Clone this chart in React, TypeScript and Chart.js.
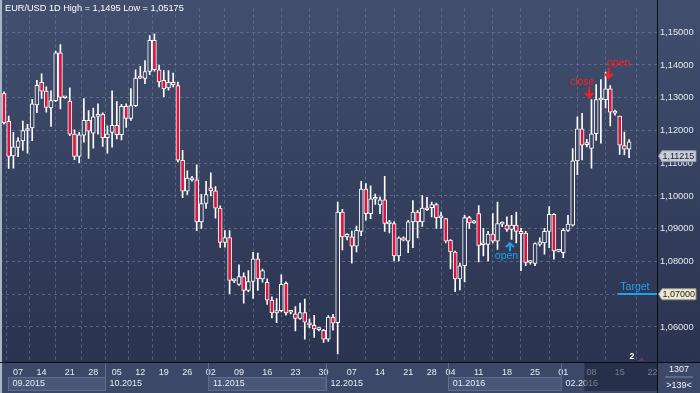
import { useEffect, useRef } from "react";
import { Chart, registerables } from "chart.js";

Chart.register(...registerables);

const FONT = "'Liberation Sans', Arial, sans-serif";

const TITLE = "EUR/USD 1D High = 1,1495 Low = 1,05175";

const opens = [
  1.1313, 1.1228, 1.1122, 1.1148, 1.1168, 1.12, 1.1208, 1.1278, 1.1347, 1.132,
  1.1269, 1.1291, 1.1437, 1.13, 1.129, 1.1189, 1.1121, 1.1186, 1.1231, 1.1192,
  1.1243, 1.1249, 1.1178, 1.1194, 1.1216, 1.1187, 1.1274, 1.1237, 1.1276, 1.1365,
  1.1359, 1.138, 1.1475, 1.1385, 1.1353, 1.133, 1.1347, 1.1337, 1.1109, 1.1015,
  1.1055, 1.1049, 1.0921, 1.0977, 1.1025, 1.1016, 1.0963, 1.0858, 1.0873, 1.0741,
  1.073, 1.0754, 1.0712, 1.0739, 1.0808, 1.0747, 1.0736, 1.0682, 1.0643, 1.065,
  1.0733, 1.0645, 1.064, 1.0626, 1.0644, 1.0613, 1.0605, 1.0592, 1.059, 1.0563,
  1.063, 1.0613, 1.0951, 1.0875, 1.0875, 1.0847, 1.0892, 1.1021, 1.0946, 1.099,
  1.0973, 1.0988, 1.0915, 1.0916, 1.0817, 1.0872, 1.0862, 1.0921, 1.0951, 1.0921,
  1.0964, 1.0964, 1.0974, 1.0933, 1.0931, 1.0865, 1.0829, 1.0747, 1.0787, 1.0934,
  1.0918, 1.0946, 1.0851, 1.0852, 1.0884, 1.0862, 1.0914, 1.0911, 1.0898, 1.0911,
  1.0892, 1.0887, 1.0797, 1.0794, 1.0852, 1.0857, 1.0892, 1.0944, 1.0831, 1.0827,
  1.0895, 1.0911, 1.1107, 1.1205, 1.1157, 1.1145, 1.119, 1.1293, 1.1294, 1.1327,
  1.1253, 1.1244, 1.1154, 1.1143,
];
const highs = [
  1.1318, 1.1244, 1.1194, 1.1178, 1.1229, 1.1219, 1.1295, 1.1353, 1.1373, 1.1333,
  1.1321, 1.1442, 1.1462, 1.1303, 1.133, 1.1202, 1.1194, 1.1297, 1.1261, 1.1268,
  1.1281, 1.1254, 1.1214, 1.1321, 1.1288, 1.128, 1.1281, 1.1328, 1.1385, 1.1396,
  1.1413, 1.149, 1.1495, 1.14, 1.1383, 1.1383, 1.1375, 1.1348, 1.1139, 1.1077,
  1.106, 1.1095, 1.1005, 1.1045, 1.1071, 1.1029, 1.097, 1.0894, 1.0894, 1.0747,
  1.079, 1.0765, 1.0772, 1.0828, 1.0826, 1.0777, 1.0747, 1.0692, 1.0687, 1.0759,
  1.0738, 1.065, 1.0662, 1.0673, 1.0685, 1.0625, 1.0636, 1.0598, 1.0593, 1.0635,
  1.0639, 1.0981, 1.0959, 1.0885, 1.0893, 1.0908, 1.1045, 1.1038, 1.1031, 1.1006,
  1.0997, 1.106, 1.0926, 1.0921, 1.0875, 1.0875, 1.0926, 1.0986, 1.0956, 1.1001,
  1.0996, 1.0981, 1.0978, 1.0951, 1.0931, 1.0867, 1.0832, 1.0795, 1.0941, 1.0938,
  1.0926, 1.0971, 1.0901, 1.0892, 1.0946, 1.0981, 1.0921, 1.0936, 1.0941, 1.0951,
  1.0901, 1.0892, 1.0802, 1.0857, 1.0872, 1.0901, 1.0968, 1.0946, 1.0837, 1.0901,
  1.0941, 1.1145, 1.1242, 1.1252, 1.1173, 1.1294, 1.134, 1.1355, 1.1378, 1.1337,
  1.1262, 1.1244, 1.1195, 1.1172,
];
const lows = [
  1.1219, 1.1084, 1.1085, 1.112, 1.1139, 1.1131, 1.1169, 1.1254, 1.1298, 1.1256,
  1.1212, 1.1288, 1.1266, 1.1298, 1.1184, 1.1111, 1.1102, 1.1164, 1.1115, 1.1146,
  1.1189, 1.1151, 1.1131, 1.1149, 1.1174, 1.1171, 1.1209, 1.1231, 1.1273, 1.1358,
  1.1343, 1.137, 1.1381, 1.1333, 1.1303, 1.1323, 1.1333, 1.1104, 1.0995, 1.1005,
  1.1045, 1.0894, 1.0901, 1.0962, 1.1, 1.0932, 1.0843, 1.0844, 1.0702, 1.0735,
  1.0727, 1.0673, 1.0707, 1.0687, 1.0712, 1.0737, 1.0669, 1.0628, 1.0613, 1.0646,
  1.0636, 1.064, 1.0588, 1.0623, 1.0563, 1.0598, 1.0568, 1.0588, 1.0553, 1.0556,
  1.059, 1.05175, 1.0835, 1.0866, 1.0795, 1.0829, 1.0879, 1.0926, 1.0931, 1.0974,
  1.0946, 1.0892, 1.0887, 1.0802, 1.0802, 1.0863, 1.0827, 1.0842, 1.0872, 1.0907,
  1.0956, 1.0936, 1.0901, 1.0901, 1.0857, 1.0777, 1.0708, 1.0713, 1.0738, 1.0901,
  1.0916, 1.0799, 1.0817, 1.0802, 1.0857, 1.0837, 1.0906, 1.0892, 1.0867, 1.0857,
  1.0772, 1.0787, 1.0792, 1.0787, 1.0847, 1.0822, 1.0842, 1.0807, 1.0829, 1.0812,
  1.0892, 1.0908, 1.1065, 1.111, 1.115, 1.1085, 1.117, 1.1161, 1.1269, 1.1214,
  1.1247, 1.1127, 1.1125, 1.1117,
];
const closes = [
  1.1224, 1.1121, 1.115, 1.1168, 1.12, 1.1206, 1.1281, 1.1338, 1.132, 1.127,
  1.1291, 1.1437, 1.1301, 1.1302, 1.1189, 1.1121, 1.1187, 1.1231, 1.1198, 1.1242,
  1.1249, 1.1178, 1.119, 1.1216, 1.1187, 1.1274, 1.1237, 1.1276, 1.136, 1.136,
  1.138, 1.1475, 1.1386, 1.1348, 1.1327, 1.1347, 1.1339, 1.1109, 1.1015, 1.1055,
  1.1049, 1.0921, 1.0977, 1.1004, 1.1016, 1.0963, 1.0858, 1.0873, 1.0742, 1.0742,
  1.0754, 1.0712, 1.0739, 1.0808, 1.0747, 1.0772, 1.0682, 1.0643, 1.065, 1.073,
  1.0643, 1.0646, 1.0626, 1.0644, 1.0615, 1.0606, 1.0594, 1.0594, 1.0563, 1.063,
  1.0612, 1.0951, 1.0875, 1.0883, 1.0847, 1.0895, 1.1021, 1.0946, 1.0991, 1.0992,
  1.0988, 1.0916, 1.0917, 1.0817, 1.0872, 1.0865, 1.0921, 1.0951, 1.0921, 1.0963,
  1.0958, 1.0974, 1.0934, 1.0935, 1.0862, 1.0829, 1.0747, 1.0787, 1.0934, 1.0918,
  1.092, 1.0849, 1.0853, 1.0884, 1.0862, 1.0916, 1.0916, 1.0898, 1.0911, 1.0892,
  1.0885, 1.0797, 1.0798, 1.0855, 1.086, 1.0892, 1.0944, 1.0832, 1.0833, 1.0895,
  1.0914, 1.1107, 1.1205, 1.1155, 1.1159, 1.119, 1.1294, 1.1295, 1.1327, 1.1256,
  1.1255, 1.1155, 1.1143, 1.1165,
];

const dayTickIndex = [3, 8, 14, 19, 24, 29, 34, 39, 44, 50, 56, 62, 68, 74, 80, 86, 91, 95, 101, 107, 113, 119, 125, 131, 138];
const dayTickLabels = ["07", "14", "21", "28", "05", "12", "19", "26", "02", "09", "16", "23", "30", "07", "14", "21", "28", "04", "11", "18", "25", "01", "08", "15", "22"];
const monthFirstIndex = [0, 22, 44, 69, 95, 119];
const monthLabels = ["09.2015", "10.2015", "11.2015", "12.2015", "01.2016", "02.2016"];
const yTickValues = [1.06, 1.07, 1.08, 1.09, 1.1, 1.11, 1.12, 1.13, 1.14, 1.15];

const lastPrice = 1.11215;
const targetPrice = 1.07;
const targetFromIndex = 130.5;
const dimFromIndex = 123.5;

const annotations = [
  { idx: 124.5, price: 1.1299, dir: "down", text: "close", color: "#ff1e1e", dx: -7 },
  { idx: 128.66, price: 1.1358, dir: "down", text: "open", color: "#ff1e1e", dx: 10 },
  { idx: 107.66, price: 1.0859, dir: "up", text: "open", color: "#1ea2ea", dx: -3.5 },
];

const fmt = (v: number) => v.toFixed(5).replace(".", ",");

let gradCache: { g: CanvasGradient; top: number; bottom: number } | null = null;
function bgGradient(chart: any) {
  const { ctx, chartArea } = chart;
  if (!chartArea) return "#36425f";
  if (!gradCache || gradCache.top !== chartArea.top || gradCache.bottom !== chartArea.bottom) {
    const g = ctx.createLinearGradient(0, chartArea.top, 0, chartArea.bottom);
    g.addColorStop(0, "#414e6d");
    g.addColorStop(0.5, "#36415f");
    g.addColorStop(1, "#2a3350");
    gradCache = { g, top: chartArea.top, bottom: chartArea.bottom };
  }
  return gradCache.g;
}

const bgPlugin = {
  id: "bgPlugin",
  beforeDraw(chart: any) {
    const { ctx, chartArea: ca, width, height } = chart;
    ctx.save();
    ctx.fillStyle = bgGradient(chart);
    ctx.fillRect(0, 0, width, ca.bottom);
    ctx.fillStyle = "#3b4868";
    ctx.fillRect(0, ca.bottom, width, height - ca.bottom);
    ctx.restore();
  },
};

function drawTag(ctx: CanvasRenderingContext2D, x0: number, y: number, text: string, bg: string, border: string) {
  ctx.beginPath();
  ctx.moveTo(x0 + 1.5, y);
  ctx.lineTo(x0 + 5, y - 5.5);
  ctx.lineTo(x0 + 39, y - 5.5);
  ctx.lineTo(x0 + 39, y + 5.5);
  ctx.lineTo(x0 + 5, y + 5.5);
  ctx.closePath();
  ctx.fillStyle = bg;
  ctx.fill();
  ctx.strokeStyle = border;
  ctx.lineWidth = 1;
  ctx.stroke();
  ctx.fillStyle = "#1a1f2e";
  ctx.font = `9px ${FONT}`;
  ctx.textAlign = "left";
  ctx.textBaseline = "middle";
  ctx.fillText(text, x0 + 5.5, y + 0.5);
}

const overlayPlugin = {
  id: "overlayPlugin",
  afterDraw(chart: any) {
    const { ctx, chartArea: ca, width, height } = chart;
    const xs = chart.scales.x;
    const ys = chart.scales.y;
    ctx.save();

    // left stripe
    ctx.fillStyle = "#a9b4c6";
    ctx.fillRect(0, 0, 2, height);

    // month row
    const starts = monthFirstIndex.map((v, k) => (k === 0 ? ca.left + 8 : xs.getPixelForValue(v - 0.5)));
    monthLabels.forEach((lab, k) => {
      const s = starts[k];
      const e = k < monthLabels.length - 1 ? starts[k + 1] : ca.right;
      if (k % 2 === 0) {
        ctx.fillStyle = "#4a5778";
        ctx.fillRect(s, ca.bottom + 15, e - s, 13);
        ctx.strokeStyle = "#5f6d8d";
        ctx.lineWidth = 1;
        ctx.strokeRect(Math.round(s) + 0.5, ca.bottom + 15.5, e - s, 13);
      }
      if (k > 0) {
        ctx.fillStyle = "#5f6d8d";
        ctx.fillRect(Math.round(s), ca.bottom + 1, 1, 28);
      }
      ctx.fillStyle = "#e6eaf1";
      ctx.font = `9px ${FONT}`;
      ctx.textAlign = "left";
      ctx.textBaseline = "middle";
      ctx.fillText(lab, s + 4.5, ca.bottom + 21.5);
    });

    // dim overlay (scroll thumb)
    const dx0 = xs.getPixelForValue(dimFromIndex);
    ctx.fillStyle = "rgba(24,30,50,0.55)";
    ctx.fillRect(dx0, ca.bottom + 1, ca.right - dx0, height - ca.bottom - 3);

    // axis lines
    ctx.fillStyle = "#0a0d16";
    ctx.fillRect(ca.right, 0, 1, height);
    ctx.fillRect(0, ca.bottom, width, 1);

    // bottom-right box
    const cx = (ca.right + width) / 2 + 0.5;
    ctx.fillStyle = "#f0f3f8";
    ctx.font = `9px ${FONT}`;
    ctx.textAlign = "center";
    ctx.textBaseline = "middle";
    ctx.fillText("1307", cx, ca.bottom + 8);
    ctx.fillText(">139<", cx, ca.bottom + 23.5);
    ctx.fillStyle = "#7d8aa3";
    ctx.fillRect(cx - 14, ca.bottom + 14.5, 28, 1);

    // title
    ctx.fillStyle = "#ffffff";
    ctx.font = `9.2px ${FONT}`;
    ctx.textAlign = "left";
    ctx.textBaseline = "middle";
    ctx.fillText(TITLE, 5, 8);

    // price tags
    drawTag(ctx, ca.right, ys.getPixelForValue(lastPrice), fmt(lastPrice), "#c8cdd7", "#8c95a8");
    drawTag(ctx, ca.right, ys.getPixelForValue(targetPrice), fmt(targetPrice), "#ece7cf", "#9a967f");

    // target line
    const ty = ys.getPixelForValue(targetPrice);
    const tx = xs.getPixelForValue(targetFromIndex);
    ctx.fillStyle = "#1ea2ea";
    ctx.fillRect(tx, Math.round(ty) - 1, ca.right - tx, 2);
    ctx.font = `10.5px ${FONT}`;
    ctx.textAlign = "left";
    ctx.textBaseline = "alphabetic";
    ctx.fillText("Target", tx + 3, ty - 4);

    // annotations
    annotations.forEach((a) => {
      const ax = xs.getPixelForValue(a.idx);
      const ay = ys.getPixelForValue(a.price);
      ctx.strokeStyle = a.color;
      ctx.fillStyle = a.color;
      ctx.lineWidth = 2;
      ctx.beginPath();
      if (a.dir === "down") {
        ctx.moveTo(ax, ay - 11);
        ctx.lineTo(ax, ay - 1);
        ctx.moveTo(ax - 4, ay - 5);
        ctx.lineTo(ax, ay - 1);
        ctx.lineTo(ax + 4, ay - 5);
      } else {
        ctx.moveTo(ax, ay + 9);
        ctx.lineTo(ax, ay + 1);
        ctx.moveTo(ax - 4, ay + 5);
        ctx.lineTo(ax, ay + 1);
        ctx.lineTo(ax + 4, ay + 5);
      }
      ctx.stroke();
      ctx.font = `10.5px ${FONT}`;
      ctx.textAlign = "center";
      ctx.textBaseline = "alphabetic";
      if (a.dir === "down") {
        ctx.fillText(a.text, ax + a.dx, ay - 13);
      } else {
        ctx.fillText(a.text, ax + a.dx, ay + 17);
      }
    });

    // bar counter marker
    ctx.fillStyle = "#ffffff";
    ctx.font = `bold 9px ${FONT}`;
    ctx.textAlign = "center";
    ctx.textBaseline = "middle";
    ctx.fillText("2", ca.right - 25, ca.bottom - 5);
    ctx.fillStyle = "#5b3e58";
    ctx.beginPath();
    ctx.moveTo(ca.right - 19, ca.bottom - 1);
    ctx.lineTo(ca.right - 15.5, ca.bottom - 5);
    ctx.lineTo(ca.right - 12, ca.bottom - 1);
    ctx.closePath();
    ctx.fill();

    ctx.restore();
  },
};

export default function App() {
  const canvasRef = useRef<HTMLCanvasElement | null>(null);

  useEffect(() => {
    if (!canvasRef.current) return;
    gradCache = null;
    const idx = opens.map((_, i) => i);
    const wickData = idx.map((i) => ({ x: i, y: [lows[i], highs[i]] }));
    const bodyData = idx.map((i) => ({ x: i, y: [Math.min(opens[i], closes[i]), Math.max(opens[i], closes[i])] }));
    const gridColor = "rgba(118,134,166,0.55)";

    const chart = new Chart(canvasRef.current, {
      type: "bar",
      data: {
        datasets: [
          {
            label: "wick",
            data: wickData as any,
            backgroundColor: "#ffffff",
            borderWidth: 0,
            barThickness: 1,
            grouped: false,
            order: 2,
          } as any,
          {
            label: "body",
            data: bodyData as any,
            backgroundColor: (c: any) => {
              const i = c.dataIndex;
              if (i === undefined) return "#dc143c";
              return closes[i] < opens[i] ? "#dc143c" : bgGradient(c.chart);
            },
            borderColor: "#ffffff",
            borderWidth: 1,
            borderSkipped: false,
            barThickness: 4,
            minBarLength: 2,
            grouped: false,
            order: 1,
          } as any,
        ],
      },
      options: {
        responsive: false,
        animation: false,
        events: [],
        layout: { padding: 0 },
        plugins: { legend: { display: false }, tooltip: { enabled: false }, title: { display: false } },
        scales: {
          x: {
            type: "linear",
            position: "bottom",
            min: -0.851,
            max: 138.94,
            bounds: "data",
            offset: false,
            afterBuildTicks: (s: any) => {
              s.ticks = dayTickIndex.map((v) => ({ value: v }));
            },
            afterFit: (s: any) => {
              s.height = 31;
            },
            ticks: {
              autoSkip: false,
              maxRotation: 0,
              minRotation: 0,
              padding: 5,
              color: "#e6eaf1",
              font: { family: FONT, size: 9 },
              callback: (_v: any, i: number) => dayTickLabels[i],
            },
            grid: { color: gridColor, drawTicks: false, lineWidth: 1 },
            border: { display: false, dash: [3, 3] },
          },
          y: {
            type: "linear",
            position: "right",
            min: 1.049314,
            max: 1.157213,
            bounds: "data",
            afterBuildTicks: (s: any) => {
              s.ticks = yTickValues.map((v) => ({ value: v }));
            },
            afterFit: (s: any) => {
              s.width = 43;
            },
            ticks: {
              padding: 3,
              color: "#e3e8f0",
              font: { family: FONT, size: 9.3 },
              callback: (v: any) => fmt(Number(v)),
            },
            grid: { color: gridColor, drawTicks: false, lineWidth: 1 },
            border: { display: false, dash: [3, 3] },
          },
        },
      } as any,
      plugins: [bgPlugin, overlayPlugin],
    });
    return () => chart.destroy();
  }, []);

  return (
    <div style={{ position: "fixed", left: 0, top: 0, width: 700, height: 393 }}>
      <canvas ref={canvasRef} width={700} height={393} style={{ display: "block" }} />
    </div>
  );
}
